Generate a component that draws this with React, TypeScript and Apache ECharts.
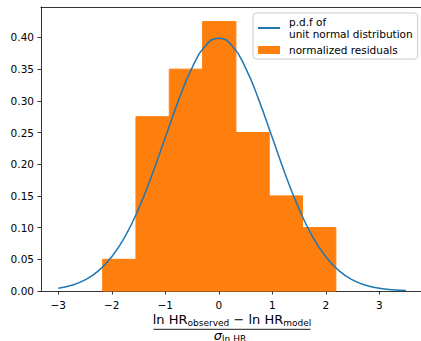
import React, { useEffect, useRef } from "react";
import * as echarts from "echarts";

// Histogram bin edges (left, right) and normalized heights
const binLeft = [-2.17, -1.548, -0.925, -0.302, 0.32, 0.943, 1.565];
const binRight = [-1.548, -0.925, -0.302, 0.32, 0.943, 1.565, 2.188];
const binHeight = [0.05, 0.275, 0.35, 0.425, 0.25, 0.15, 0.1];

// p.d.f. curve
const pdfX = [-3, -2.75, -2.5, -2.25, -2, -1.75, -1.5, -1.25, -1, -0.75, -0.5, -0.25, 0, 0.25, 0.5, 0.75, 1, 1.25, 1.5, 1.75, 2, 2.25, 2.5, 2.75, 3, 3.25, 3.5];
const pdfY = [0.0044, 0.0091, 0.0175, 0.0317, 0.054, 0.0863, 0.1295, 0.1826, 0.242, 0.3011, 0.3521, 0.3867, 0.3989, 0.3867, 0.3521, 0.3011, 0.242, 0.1826, 0.1295, 0.0863, 0.054, 0.0317, 0.0175, 0.0091, 0.0044, 0.002, 0.0009];

const xTicks = [-3, -2, -1, 0, 1, 2, 3];
const yTicks = [0, 0.05, 0.1, 0.15, 0.2, 0.25, 0.3, 0.35, 0.4];

// x-axis label pieces: [text, isSubscript, isItalic]
const numerPieces: [string, boolean, boolean][] = [
  ["ln HR", false, false],
  ["observed", true, false],
  [" \u2212 ln HR", false, false],
  ["model", true, false],
];
const denomPieces: [string, boolean, boolean][] = [
  ["\u03c3", false, true],
  ["ln HR", true, false],
];

const FONT = "DejaVu Sans";

export default function App() {
  const ref = useRef<HTMLDivElement>(null);
  useEffect(() => {
    if (!ref.current) return;
    const chart = echarts.init(ref.current, undefined, { renderer: "svg" });
    const axisLine = { show: true, onZero: false, lineStyle: { color: "#000", width: 0.8 } };
    const axisTickBase = { show: true, length: 3.5, inside: false, lineStyle: { color: "#000", width: 0.8 } };
    const fmtX = (v: number) => (v < 0 ? "\u2212" + Math.abs(v) : String(v));

    const ctx = document.createElement("canvas").getContext("2d")!;
    const MAIN = 13;
    const SUB = 9;
    const SUB_DROP = 2.4;
    const CENTRAL = 0.346; // DejaVu: baseline offset from em-box centre
    const buildMath = (pieces: [string, boolean, boolean][], cx: number, baseline: number) => {
      const widths = pieces.map(([t, sub, it]) => {
        ctx.font = `${it ? "italic " : ""}${sub ? SUB : MAIN}px "${FONT}"`;
        return ctx.measureText(t).width;
      });
      const total = widths.reduce((a, b) => a + b, 0);
      let x = cx - total / 2;
      return pieces.map(([t, sub, it], i) => {
        const size = sub ? SUB : MAIN;
        const bl = baseline + (sub ? SUB_DROP : 0);
        const el = {
          type: "text",
          x,
          y: bl - CENTRAL * size,
          style: {
            text: t,
            fontFamily: FONT,
            fontSize: size,
            fontStyle: it ? "italic" : "normal",
            fill: "#000",
            align: "left",
            verticalAlign: "middle",
          },
        };
        x += widths[i];
        return el;
      });
    };

    chart.setOption({
      animation: false,
      backgroundColor: "#fff",
      grid: { left: 41, right: 0, top: 7, bottom: 50, containLabel: false },
      legend: {
        left: 253,
        top: 13,
        orient: "vertical",
        padding: [3, 5, 3, 4],
        itemGap: 4,
        itemWidth: 22,
        itemHeight: 8,
        backgroundColor: "rgba(255,255,255,0.8)",
        borderColor: "#cccccc",
        borderWidth: 1,
        borderRadius: 3,
        textStyle: { fontFamily: FONT, fontSize: 10.5, lineHeight: 12, color: "#000", padding: [0, 0, 0, 4] },
        data: [
          { name: "p.d.f of\nunit normal distribution", itemStyle: { opacity: 0 } },
          { name: "normalized residuals", icon: "rect" },
        ],
      },
      xAxis: [
        {
          type: "value",
          min: -3.323,
          max: 3.78,
          splitLine: { show: false },
          axisLine,
          axisTick: { ...axisTickBase, customValues: xTicks },
          axisLabel: {
            customValues: xTicks,
            formatter: fmtX,
            fontFamily: FONT,
            fontSize: 10.5,
            color: "#000",
            margin: 8,
          },
        },
        {
          type: "value",
          position: "top",
          min: -3.323,
          max: 3.78,
          splitLine: { show: false },
          axisLine,
          axisTick: { show: false },
          axisLabel: { show: false },
        },
      ],
      yAxis: {
        type: "value",
        min: 0,
        max: 0.448,
        splitLine: { show: false },
        axisLine,
        axisTick: { ...axisTickBase, customValues: yTicks },
        axisLabel: {
          customValues: yTicks,
          formatter: (v: number) => v.toFixed(2),
          fontFamily: FONT,
          fontSize: 10.5,
          color: "#000",
          margin: 7,
        },
      },
      series: [
        {
          name: "normalized residuals",
          type: "custom",
          color: "#ff7f0e",
          itemStyle: { color: "#ff7f0e" },
          encode: { x: [0, 1], y: 2 },
          data: binLeft.map((l, i) => [l, binRight[i], binHeight[i]]),
          renderItem: (params: any, api: any) => {
            const p0 = api.coord([api.value(0), 0]);
            const p1 = api.coord([api.value(1), api.value(2)]);
            return {
              type: "rect",
              shape: { x: p0[0], y: p1[1], width: p1[0] - p0[0], height: p0[1] - p1[1] },
              style: { fill: "#ff7f0e", stroke: "#ff7f0e", lineWidth: 1 },
            };
          },
          z: 1,
        },
        {
          name: "p.d.f of\nunit normal distribution",
          type: "line",
          color: "#1f77b4",
          symbol: "none",
          smooth: true,
          lineStyle: { color: "#1f77b4", width: 1.5 },
          data: pdfX.map((x, i) => [x, pdfY[i]]),
          z: 3,
        },
      ],
      graphic: [
        ...buildMath(numerPieces, 232, 323.5),
        {
          type: "line",
          shape: { x1: 153.5, y1: 329.3, x2: 310.5, y2: 329.3 },
          style: { stroke: "#000", lineWidth: 0.9 },
        },
        ...buildMath(denomPieces, 230, 339.8),
      ],
    });
    return () => chart.dispose();
  }, []);
  return <div ref={ref} style={{ position: "fixed", left: 0, top: 0, width: 421, height: 341 }} />;
}
